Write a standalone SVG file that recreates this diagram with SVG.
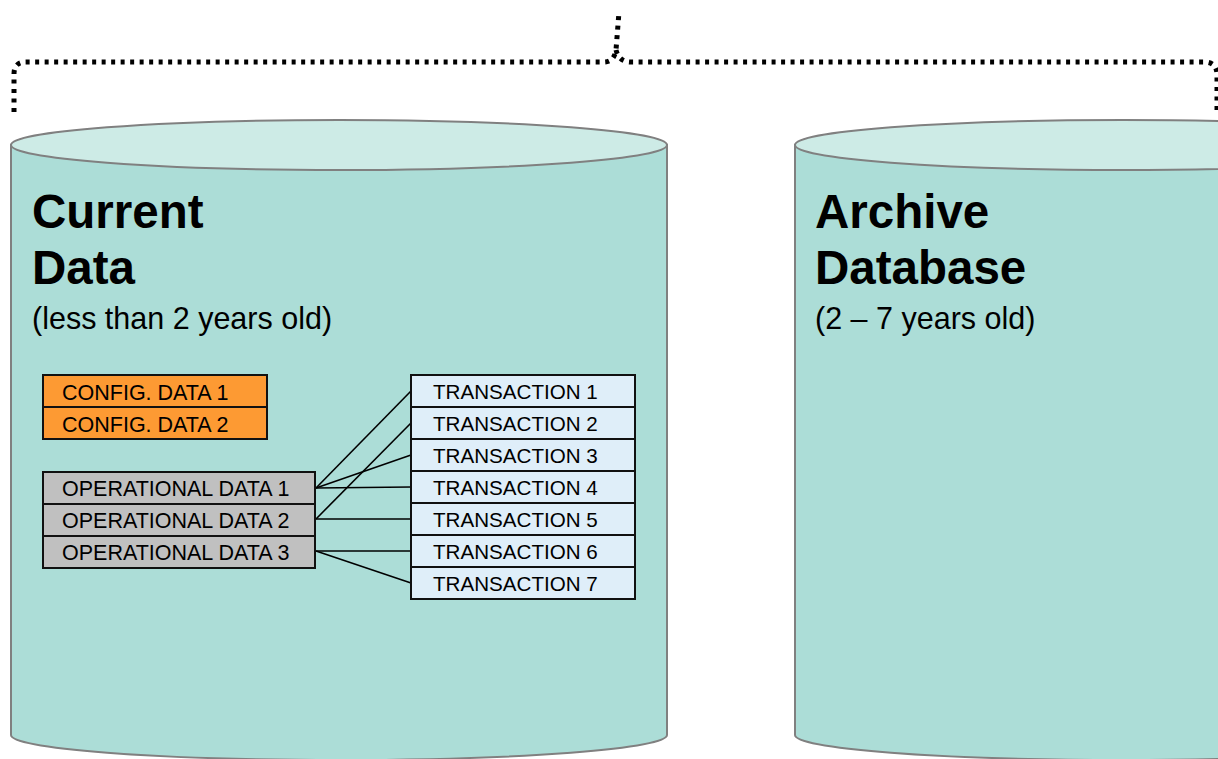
<svg xmlns="http://www.w3.org/2000/svg" width="1218" height="759" viewBox="0 0 1218 759">
<style>
.cyl-body{fill:#acddd7;stroke:#808080;stroke-width:2}
.cyl-top{fill:#cdebe6;stroke:#808080;stroke-width:2}
.title{font-family:"Liberation Sans",Arial,sans-serif;font-weight:bold;font-size:47.5px;fill:#000}
.sub{font-family:"Liberation Sans",Arial,sans-serif;font-size:30.5px;fill:#000}
.lbl{font-family:"Liberation Sans",Arial,sans-serif;font-size:21.5px;fill:#000}
.lbl-tx{font-family:"Liberation Sans",Arial,sans-serif;font-size:20.6px;fill:#000}
.cfg{fill:#fd9a33;stroke:#111;stroke-width:2}
.op{fill:#c0c0c0;stroke:#111;stroke-width:2}
.tx{fill:#dfeef9;stroke:#111;stroke-width:2}
.conn{stroke:#000;stroke-width:1.6;fill:none}
.brace{stroke:#000;stroke-width:5;fill:none;stroke-dasharray:4 5.5}
</style>
<g id="brace">
<path class="brace" d="M14,112 L14,74 Q14,62 26,62 L604,62 Q614,62 616,50 L619,12 M616,50 Q619,62 631,62 L1204,62 Q1217,62 1217,75 L1217,112"/>
</g>
<g id="current-db">
<path class="cyl-body" d="M11,145 L11,735 A328,25 0 0 0 667,735 L667,145 Z"/>
<ellipse class="cyl-top" cx="339" cy="145" rx="328" ry="25"/>
<text class="title" x="32" y="228">Current</text>
<text class="title" x="32" y="284">Data</text>
<text class="sub" x="32" y="329">(less than 2 years old)</text>
</g>
<g id="archive-db">
<path class="cyl-body" d="M795,145 L795,735 A328,25 0 0 0 1451,735 L1451,145 Z"/>
<ellipse class="cyl-top" cx="1123" cy="145" rx="328" ry="25"/>
<text class="title" x="815" y="228">Archive</text>
<text class="title" x="815" y="284">Database</text>
<text class="sub" x="815" y="329">(2 – 7 years old)</text>
</g>
<g id="connectors">
<line class="conn" x1="316" y1="488" x2="411" y2="391"/>
<line class="conn" x1="316" y1="488" x2="411" y2="455"/>
<line class="conn" x1="316" y1="488" x2="411" y2="487"/>
<line class="conn" x1="316" y1="519" x2="411" y2="423"/>
<line class="conn" x1="316" y1="519" x2="411" y2="519"/>
<line class="conn" x1="316" y1="551" x2="411" y2="551"/>
<line class="conn" x1="316" y1="551" x2="411" y2="583"/>
</g>
<g id="config-data-1"><rect class="cfg" x="43" y="375" width="224" height="32"/><text class="lbl" x="62" y="400">CONFIG. DATA 1</text></g>
<g id="config-data-2"><rect class="cfg" x="43" y="407" width="224" height="32"/><text class="lbl" x="62" y="432">CONFIG. DATA 2</text></g>
<g id="operational-data-1"><rect class="op" x="43" y="472" width="272" height="32"/><text class="lbl" x="62" y="496">OPERATIONAL DATA 1</text></g>
<g id="operational-data-2"><rect class="op" x="43" y="504" width="272" height="32"/><text class="lbl" x="62" y="528">OPERATIONAL DATA 2</text></g>
<g id="operational-data-3"><rect class="op" x="43" y="536" width="272" height="32"/><text class="lbl" x="62" y="560">OPERATIONAL DATA 3</text></g>
<g id="transaction-1"><rect class="tx" x="411" y="375" width="224" height="32"/><text class="lbl-tx" x="433" y="399">TRANSACTION 1</text></g>
<g id="transaction-2"><rect class="tx" x="411" y="407" width="224" height="32"/><text class="lbl-tx" x="433" y="431">TRANSACTION 2</text></g>
<g id="transaction-3"><rect class="tx" x="411" y="439" width="224" height="32"/><text class="lbl-tx" x="433" y="463">TRANSACTION 3</text></g>
<g id="transaction-4"><rect class="tx" x="411" y="471" width="224" height="32"/><text class="lbl-tx" x="433" y="495">TRANSACTION 4</text></g>
<g id="transaction-5"><rect class="tx" x="411" y="503" width="224" height="32"/><text class="lbl-tx" x="433" y="527">TRANSACTION 5</text></g>
<g id="transaction-6"><rect class="tx" x="411" y="535" width="224" height="32"/><text class="lbl-tx" x="433" y="559">TRANSACTION 6</text></g>
<g id="transaction-7"><rect class="tx" x="411" y="567" width="224" height="32"/><text class="lbl-tx" x="433" y="591">TRANSACTION 7</text></g>
</svg>
